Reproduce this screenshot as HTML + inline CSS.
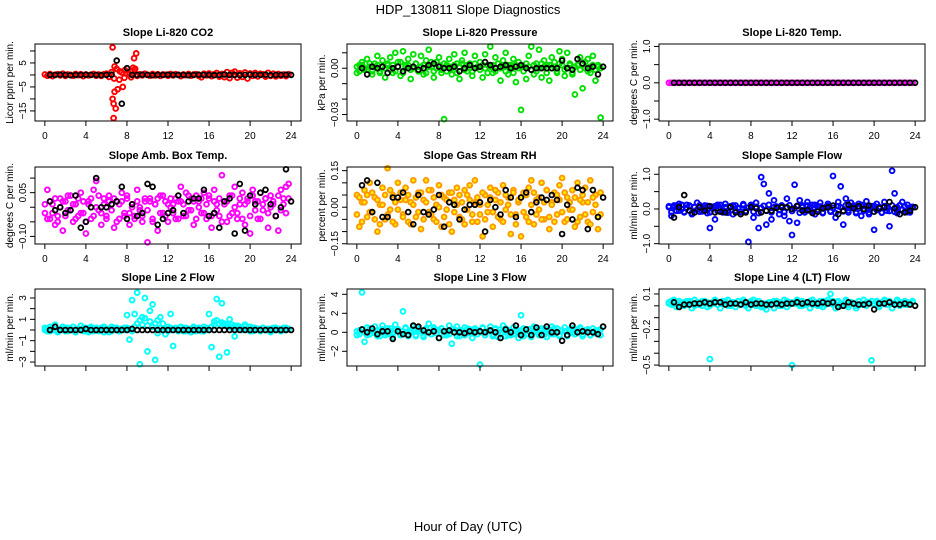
<!DOCTYPE html>
<html><head><meta charset="utf-8"><style>
html,body{margin:0;padding:0;background:#fff;}
svg{display:block;font-family:"Liberation Sans",sans-serif;}
</style></head><body>
<svg id="chart" width="936" height="540" viewBox="0 0 936 540">
<text x="468" y="14" text-anchor="middle" font-size="13">HDP_130811  Slope Diagnostics</text>
<text x="468" y="531" text-anchor="middle" font-size="13">Hour of Day (UTC)</text>
</svg>
<script>
const HOURS=[0,0.25,0.5,0.75,1,1.25,1.5,1.75,2,2.25,2.5,2.75,3,3.25,3.5,3.75,4,4.25,4.5,4.75,5,5.25,5.5,5.75,6,6.25,6.5,6.75,7,7.25,7.5,7.75,8,8.25,8.5,8.75,9,9.25,9.5,9.75,10,10.25,10.5,10.75,11,11.25,11.5,11.75,12,12.25,12.5,12.75,13,13.25,13.5,13.75,14,14.25,14.5,14.75,15,15.25,15.5,15.75,16,16.25,16.5,16.75,17,17.25,17.5,17.75,18,18.25,18.5,18.75,19,19.25,19.5,19.75,20,20.25,20.5,20.75,21,21.25,21.5,21.75,22,22.25,22.5,22.75,23,23.25,23.5,23.75];
const HOURS_B=[0.5,1,1.5,2,2.5,3,3.5,4,4.5,5,5.5,6,6.5,7,7.5,8,8.5,9,9.5,10,10.5,11,11.5,12,12.5,13,13.5,14,14.5,15,15.5,16,16.5,17,17.5,18,18.5,19,19.5,20,20.5,21,21.5,22,22.5,23,23.5,24];
const X_TICKS=[0,4,8,12,16,20,24];

const CO2_A=[0.2,-0.3,0.4,-0.5,0.1,0.3,-0.2,0.5,-0.4,0.2,0,-0.3,0.4,-0.1,0.3,-0.5,0.2,-0.2,0.1,0.4,-0.3,0.2,-0.4,0.3,0.5,-0.8,1.2,-1.5,2.5,-2,1,-1.2,0.6,0.3,1.5,2.2,-0.4,0.3,-0.2,0.5,0.1,-0.3,0.4,-0.2,0.3,-0.4,0.2,0.1,-0.3,0.4,-0.2,0.3,0.1,-0.5,0.2,-0.1,0.4,-0.3,0.2,0.3,-0.4,-1,0.5,-0.2,0.6,-0.5,0.3,0.8,-0.7,0.4,-0.9,1.2,-1.3,0.9,1.4,-1.1,0.7,-0.8,1,-1.5,0.6,-0.4,0.8,-0.6,0.5,0.3,-0.7,0.9,-0.4,0.5,-0.6,0.4,-0.3,0.2,-0.5,0.3];
const CO2_OUT_X=[6.6,6.8,6.6,6.7,6.9,6.7,6.8,7.1,7.6,8.7,8.9,8.6,7.8,7.3,8.8,8.4];
const CO2_OUT_Y=[11.5,3.5,-10,-12,-14,-18,-7,-6,-5,7,9,3,2,1.5,2.5,-1];
const CO2_K=[0,0,0.1,0,-0.1,0,0,0.1,0,0,-0.1,0,0.1,6,-12,2.8,0,0,0.1,0,-0.1,0,0,0.1,0,0,0,-0.1,0,0.1,0,0,-0.1,0,0.2,0,0,-0.1,0,0.1,0,0,0.1,-0.1,0,0,0.1,0];

const PRS_A=[-0.003,0.002,0.004,-0.001,0.006,0.001,-0.004,0.003,0.008,-0.002,0.005,-0.006,0.002,0.007,-0.003,0.010,0.004,-0.005,0.011,0.002,0.006,-0.007,0.009,0.003,-0.002,0.008,-0.004,0.005,0.012,0.001,-0.006,0.004,0.007,-0.003,-0.033,0.002,0.006,-0.004,0.009,0.003,-0.007,0.005,0.010,-0.002,0.003,-0.005,0.008,0.001,0.004,-0.006,0.009,0.002,0.014,-0.003,0.007,0.003,-0.008,0.005,0.010,-0.004,0.002,0.006,-0.009,0.004,-0.027,0.001,-0.007,0.008,0.014,-0.004,0.003,0.012,-0.006,0.005,0.002,-0.008,0.007,0.004,-0.003,0.011,0.006,-0.005,0.010,0.003,-0.004,-0.017,0.002,0.007,-0.013,0.004,0.006,-0.003,0.008,-0.008,0.002,-0.032];
const PRS_B=[0.001,-0.002,0.002,0,-0.001,0.003,-0.002,0.001,0.002,-0.003,0.001,0,0.003,-0.001,0.002,-0.002,0.001,0.004,-0.003,0.001,0.002,-0.001,0,0.003,-0.002,0.001,0.002,-0.003,0.001,0.004,-0.002,0,0.002,-0.001,0.003,-0.002,0.001,0,0.002,-0.003,0.001,0.003,-0.001,0.002,0,-0.002,0.003,0.001,-0.001,0.002,0,-0.003,0.001,0.002,-0.002,0.003,0,0.001,-0.002,0.002,0.001,-0.003,0.002,0,0.001,-0.002,0.003,0.001,-0.001,0.002,-0.002,0,0.003,0.001,-0.003,0.002,0,0.001,-0.002,0.003,0.002,-0.001,0,0.002,-0.003,0.001,0.002,-0.001,0.003,0,-0.002,0.001,0.002,-0.001,0.001,0];
const PRS_K=[0,-0.004,0.001,0,0.001,-0.003,0,0.001,-0.002,0,0.001,-0.001,0,0.002,0.003,0.001,0,0,0.001,-0.002,0,0.002,0,0.001,0.004,0.002,0,0.001,0.002,0,0.001,0.002,0,-0.001,0,0,0,0,0,0.005,0,-0.001,0.006,0.003,0,0.001,-0.004,0.001];

const TMP_A=[0,0,0,0,0,0,0,0,0,0,0,0,0,0,0,0,0,0,0,0,0,0,0,0,0,0,0,0,0,0,0,0,0,0,0,0,0,0,0,0,0,0,0,0,0,0,0,0,0,0,0,0,0,0,0,0,0,0,0,0,0,0,0,0,0,0,0,0,0,0,0,0,0,0,0,0,0,0,0,0,0,0,0,0,0,0,0,0,0,0,0,0,0,0,0,0];
const TMP_K=[0,0,0,0,0,0,0,0,0,0,0,0,0,0,0,0,0,0,0,0,0,0,0,0,0,0,0,0,0,0,0,0,0,0,0,0,0,0,0,0,0,0,0,0,0,0,0,0];

const AMB_A=[-0.02,0.06,-0.04,0.01,-0.06,-0.03,0.03,-0.08,0.02,-0.01,0.04,-0.05,0.01,-0.03,0.05,-0.02,-0.09,0.02,-0.04,0.06,0.09,-0.01,-0.06,0.03,-0.03,0.04,0.01,-0.07,0.02,-0.04,0.05,-0.02,0.03,-0.06,0,-0.03,0.06,-0.01,-0.05,0.02,-0.12,0.03,-0.04,0.01,-0.08,0.04,-0.02,0.02,-0.05,0.03,0.01,-0.04,0.02,0.07,-0.03,0.05,-0.01,0.03,-0.06,0.04,0.02,-0.02,0.05,-0.04,0.03,-0.07,0.06,0.01,-0.03,0.11,0.02,-0.05,0.04,-0.02,0.07,-0.04,0.01,0.05,-0.06,0.03,-0.09,0.06,0.02,-0.04,0.05,-0.01,0.03,-0.07,0.04,0.01,-0.03,-0.08,0.06,0.03,0.07,0.08];
const AMB_B=[0.01,-0.04,0.02,-0.02,0.03,-0.05,0,0.02,-0.03,0.04,-0.01,0.01,-0.04,0.03,-0.02,0.02,-0.05,0.01,0.03,-0.03,0,0.04,-0.02,0.01,-0.04,0.02,-0.01,0.03,-0.05,0.01,0.02,-0.03,0.04,-0.02,0.01,-0.04,0.02,0,-0.03,0.03,-0.01,0.02,-0.05,0.01,0.03,-0.02,0.04,-0.03,0.01,0,-0.02,0.03,-0.04,0.02,0.01,-0.03,0.04,-0.01,0.02,-0.04,0,0.03,-0.02,0.01,0.04,-0.03,0.02,-0.01,0.03,-0.05,0.01,0.02,-0.03,0.04,0,-0.02,0.03,-0.04,0.01,0.02,-0.03,0.04,-0.01,0.02,-0.04,0.01,0.03,-0.02,0,0.02,-0.03,0.04,-0.01,0.01,-0.02,0.03];
const AMB_K=[0.02,-0.01,0,-0.02,-0.01,0.04,-0.07,-0.05,0,0.10,0,0,0.01,0.02,0.07,-0.04,0.01,-0.03,-0.02,0.08,0.07,-0.06,-0.04,-0.02,-0.01,0.04,-0.02,0.02,0.03,0.03,0.06,-0.03,-0.02,-0.07,0.02,0.03,-0.09,0.08,-0.08,0.04,0.01,0.05,0.06,0.01,-0.03,0,0.13,0.02];

const RH_A=[0.05,-0.08,0.02,0.07,-0.04,0.10,-0.02,0.04,-0.10,0.01,0.08,-0.05,0.16,-0.01,0.05,-0.07,0.10,0.03,-0.03,0.08,-0.06,0.02,0.11,-0.04,0.06,-0.09,0.03,0.11,-0.02,0.07,-0.05,0.01,0.09,-0.08,0.04,-0.01,0.06,-0.10,0.03,0.08,-0.04,0.02,-0.07,0.05,0.09,-0.03,0.11,-0.06,0.01,-0.12,0.05,-0.02,0.08,-0.08,0.03,0.06,-0.05,0.09,-0.01,0.04,-0.11,0.07,-0.03,0.02,-0.12,0.06,-0.04,0.08,0.11,-0.07,0.03,-0.01,0.10,-0.05,0.07,-0.09,0.02,0.06,-0.03,0.09,0.12,-0.06,0.04,-0.01,0.07,-0.08,0.10,-0.04,0.02,0.08,-0.06,0.11,-0.02,0.05,-0.09,-0.03];
const RH_B=[-0.03,0.04,-0.06,0.02,0.05,-0.02,0.06,-0.05,0.03,-0.07,0.01,0.05,-0.03,0.07,-0.06,0.02,-0.01,0.06,-0.04,0.03,0.05,-0.07,0.01,0.04,-0.02,0.06,-0.05,0.02,0.07,-0.03,0.04,-0.06,0,0.05,-0.04,0.03,-0.07,0.06,-0.02,0.01,0.05,-0.05,0.07,-0.01,0.03,-0.06,0.02,0.04,-0.03,0.06,-0.05,0.01,0.04,-0.02,0.07,-0.04,0.02,-0.06,0.05,0.01,-0.03,0.06,-0.07,0.03,0.04,-0.02,0.05,-0.06,0.01,0.06,-0.03,0.04,-0.05,0.02,0.07,-0.04,0.01,-0.06,0.05,0.03,-0.02,0.06,-0.05,0.02,-0.01,0.04,-0.06,0.03,0.05,-0.03,0.02,-0.07,0.04,0.01,-0.04,0.06];
const RH_K=[0.09,0.11,-0.02,0.10,-0.04,-0.04,0.04,0.04,0.06,-0.02,-0.07,0.05,-0.02,-0.03,-0.01,0.05,-0.08,0.02,0.01,-0.05,-0.01,0.01,0.01,0.02,-0.10,0.03,0,-0.03,0.07,0.04,-0.04,0.04,0.06,-0.02,0.02,0.04,0.03,0.05,0.03,-0.11,0.01,-0.05,0.08,0.07,-0.09,0.07,-0.04,0.04];

const SF_A=[0.05,-0.2,0.10,-0.05,0.15,0,-0.10,0.12,0.08,-0.15,0.05,0.18,-0.08,0.02,0.10,-0.12,-0.55,0.06,-0.3,0.12,0.04,-0.1,0.15,-0.05,0.08,-0.15,0.1,0.03,-0.08,0.14,-0.06,-0.95,0.12,-0.25,0.18,-0.55,0.92,0.72,-0.45,0.45,-0.3,0.25,0.05,-0.15,0.1,-0.2,0.3,-0.35,-0.75,0.7,-0.4,0.25,0.1,-0.1,0.2,-0.05,0.12,-0.15,0.08,0.18,-0.12,0.05,0.15,-0.08,0.95,-0.25,0.2,0.65,-0.45,0.3,-0.1,0.18,0.05,-0.12,0.15,-0.2,0.1,0.22,-0.15,0.08,-0.6,0.15,0.05,-0.1,0.2,-0.05,-0.5,1.1,0.45,-0.12,0.1,0.2,-0.08,0.12,-0.1,0.05];
const SF_B=[0.08,-0.1,0.05,0.1,-0.05,0.12,-0.08,0.03,0.1,-0.12,0.06,-0.02,0.11,-0.07,0.04,0.09,-0.1,0.02,0.08,-0.06,0.12,-0.03,0.05,-0.11,0.07,0.1,-0.04,0.02,-0.09,0.11,-0.06,0.04,0.1,-0.08,0.06,-0.12,0.03,0.09,-0.05,0.12,-0.1,0.05,0.07,-0.03,0.1,-0.09,0.04,0.11,-0.06,0.02,0.09,-0.11,0.05,-0.04,0.1,0.06,-0.08,0.12,-0.02,0.07,-0.1,0.04,0.09,-0.06,0.03,-0.12,0.08,0.05,-0.07,0.11,-0.04,0.06,0.1,-0.09,0.02,0.12,-0.05,0.07,-0.1,0.04,0.09,-0.03,0.06,-0.11,0.08,0.03,-0.06,0.1,-0.08,0.05,0.11,-0.02,0.07,-0.09,0.04,0.06];
const SF_K=[-0.25,0.05,0.4,-0.05,-0.1,0.05,-0.05,0.08,-0.1,-0.08,-0.1,0.05,-0.1,-0.15,-0.1,0.05,0.02,-0.1,-0.05,-0.05,0.03,0.05,0.05,0,0.08,-0.05,-0.03,-0.12,-0.08,0.02,0.05,0.1,-0.15,-0.05,0.12,0.02,0.08,0,0.1,-0.08,0.02,0.05,0.2,0.02,-0.15,-0.1,-0.05,0.05];

const L2_A=[0.2,-0.1,0.3,0,0.5,-0.2,0.1,0.3,-0.1,0.2,0,0.3,-0.2,0.1,0.4,-0.1,0.2,-0.2,0.3,0,0.1,-0.1,0.2,0.3,0.1,-0.2,0.3,0,0.2,-0.1,0.1,0.2,1.4,-0.9,2.8,1.5,3.5,-3.2,1.2,3.0,-2.0,1.8,2.4,-2.8,0.9,1.2,0.6,-0.4,0.3,1.5,-1.5,0.2,0,0.3,-0.1,0.2,0.1,-0.2,0.3,0,0.2,-0.1,0.3,0.1,1.5,-1.6,0.8,2.9,-2.5,2.5,0.6,-2.1,1.0,0.5,-0.6,0.4,0.3,0.1,0.5,0,0.3,-0.1,0.2,0.1,-0.1,0.2,0,0.1,-0.2,0.2,0,0.1,-0.1,0.2,0,0.1];
const L2_B=[0,0.1,-0.1,0.2,0,-0.1,0.1,0,0.2,-0.1,0.1,0,-0.2,0.1,0,0.2,-0.1,0,0.1,-0.1,0.2,0,0.1,-0.2,0,0.1,-0.1,0.2,0,-0.1,0.1,0,0.2,0.1,-0.1,0.3,0.6,0.9,0.5,1.1,0.4,0.8,0.3,0.6,-0.3,0.2,0,0.1,-0.1,0.2,0,0.1,-0.1,0,0.2,-0.1,0.1,0,0.2,-0.1,0,0.1,-0.1,0.2,0,0.3,0.5,0.9,0.6,0.7,0.4,0.5,0.3,0.2,0.4,0.1,0.2,0,0.3,0.1,-0.1,0.2,0,0.1,-0.1,0.2,0,0.1,-0.1,0,0.2,0.1,-0.1,0,0.2,0.1];
const L2_K=[0,0.3,0,0,0,0,0,0.1,0,0,0,0,0,0,0,0,0.1,0,0,0,0,0,0,0,0,0,0,0,0,0,0,0,0,0,0,0,0,0,0,0,0,0,0,0,0,0,0,0];

const L3_A=[-0.3,0.2,4.2,-1.0,0.5,-0.2,0.3,0.6,-0.4,0.2,0.7,-0.3,0.4,0.1,-0.5,0.8,0.3,-0.2,2.2,0.5,-0.4,0.2,0.6,-0.3,0.4,0.1,-0.5,0.3,0.9,-0.2,0.5,0.2,-0.6,0.4,0.1,-0.3,0.7,-1.2,0.3,0.6,-0.4,0.2,0.5,-0.1,0.3,-0.6,0.4,0.2,-3.4,0.5,-0.3,0.1,0.6,-0.2,0.4,-0.5,0.3,0.7,-0.4,0.2,-0.3,0.5,0.1,-0.6,1.8,0.4,-0.2,0.3,-0.5,0.6,0.2,-0.3,0.4,0.1,-0.5,0.3,0.6,-0.2,0.4,-0.4,0.2,0.5,-0.3,0.1,0.4,-0.2,0.3,0.5,-0.4,0.2,0.1,-0.3,0.4,-0.1,0.2,-0.3];
const L3_B=[0.1,-0.2,0.3,0,-0.3,0.4,0.1,-0.1,0.2,-0.4,0.3,0,-0.2,0.4,-0.1,0.2,0.3,-0.3,0.1,0.4,-0.2,0,0.3,-0.4,0.2,0.1,-0.3,0.4,0,-0.2,0.3,-0.1,0.2,0.4,-0.3,0.1,-0.2,0.3,0,-0.4,0.2,0.1,-0.3,0.4,-0.1,0.2,0.3,-0.2,0,0.4,-0.3,0.1,0.2,-0.4,0.3,0,-0.1,0.2,0.4,-0.3,0.1,-0.2,0.3,0,0.2,-0.4,0.1,0.3,-0.2,0.4,0,-0.1,0.2,-0.3,0.3,0.1,-0.2,0.4,0,-0.3,0.2,0.1,-0.4,0.3,-0.1,0.2,0,0.4,-0.2,0.1,0.3,-0.3,0,0.2,-0.1,0.3];
const L3_K=[0.3,0,0.4,-0.2,0.1,0.1,-0.7,0.1,-0.2,-0.3,0.7,0.6,0.2,0,0.1,-0.6,0.1,0.2,0,0,-0.1,0.1,0,0.1,0,0.2,0,-0.6,0.3,0,0.7,-0.3,0.3,-0.3,0.5,-0.3,0.6,0,0,-0.9,-0.3,0.7,0,0.1,0,0,-0.2,0.6];

const L4_A=[0.03,0.01,0.05,-0.01,0.04,0.02,0,0.04,0.03,-0.02,0.05,0.01,0.03,0,0.04,-0.01,-0.45,0.03,0.05,0.01,-0.02,0.04,0.02,0.05,0,0.03,-0.01,0.04,0.02,0.05,0.01,-0.02,0.03,0.05,0,0.04,-0.01,0.02,-0.03,0.01,0.03,-0.02,0.04,0,0.02,0.05,-0.01,0.03,-0.5,0.02,0.05,0,0.04,0.01,0.03,-0.02,0.05,0.02,0,0.04,-0.01,0.03,0.05,0.1,0.01,-0.02,0.04,0.02,0,0.05,-0.01,0.03,0.02,-0.02,0.04,0.01,0.05,0,0.03,-0.46,0.02,0.04,-0.01,0.03,0.05,0.01,0.04,-0.02,0.02,0.05,0,0.03,0.04,0.01,0.02,0.03];
const L4_B=[0.02,0.04,0.01,0.03,0.02,0,0.03,0.01,0.04,0.02,0,0.03,0.01,0.04,0.02,0.03,0,0.02,0.04,0.01,0.03,0.02,0.04,0,0.01,0.03,0.02,0.04,0.01,0.03,0,0.02,0.04,0.01,0.03,0.02,0,-0.01,0.01,0.03,0.02,0.04,0.01,0.03,0,0.02,0.04,0.01,0.03,0.02,0.04,0.01,0,0.03,0.02,0.04,0.01,0.03,0.02,0,0.04,0.01,0.03,0.02,0.04,0.01,0.03,0,0.02,0.04,0.01,0.03,0.02,0,0.04,0.02,0.01,0.03,0.02,0.04,0.01,0.03,0,0.02,0.04,0.01,0.03,0.02,0.01,0.04,0.03,0.02,0.01,0.03,0.02,0.04];
const L4_K=[0.03,-0.01,0.01,0.01,0.02,0.02,0.03,0.02,0.03,0.03,0.01,0.02,0.02,0.01,0.03,0.01,0.02,0.02,0.01,0.01,0.02,0.01,0.02,0.02,0.03,0.02,0.03,0.02,0.02,0.03,0.02,0.03,-0.01,0,0.03,0.02,0.01,0.01,0.02,-0.03,0.02,0.02,0.03,0.01,0.01,0.02,0.01,0];

const NS='http://www.w3.org/2000/svg';
const svg=document.getElementById('chart');
function mk(tag,attrs,parent){const e=document.createElementNS(NS,tag);for(const k in attrs)e.setAttribute(k,attrs[k]);(parent||svg).appendChild(e);return e;}

const COLS=[35,347,659], ROWS=[44,167,289], PW=266, PH=77;
const XMIN=-0.96, XMAX=24.96;

const panels=[
 {name:'co2',title:'Slope Li-820 CO2',ylab:'Licor ppm per min.',col:0,row:0,ylim:[-19.2,12.9],ticks:[-15,-10,-5,0,5,10],labels:{'-15':'\u221215','-5':'\u22125','5':'5'},color:'#ff0000',series:[[HOURS,CO2_A],[CO2_OUT_X,CO2_OUT_Y]],black:CO2_K,xlab:true},
 {name:'pressure',title:'Slope Li-820 Pressure',ylab:'kPa per min.',col:1,row:0,ylim:[-0.0342,0.0157],ticks:[0.01,0,-0.01,-0.02,-0.03],labels:{'0':'0.00','-0.03':'\u22120.03'},color:'#00e000',series:[[HOURS,PRS_A],[HOURS,PRS_B]],black:PRS_K,xlab:true},
 {name:'li820-temp',title:'Slope Li-820 Temp.',ylab:'degrees C per min.',col:2,row:0,ylim:[-1.05,1.067],ticks:[1,0.5,0,-0.5,-1],labels:{'1':'1.0','0':'0.0','-1':'\u22121.0'},color:'#ff00ff',series:[[HOURS,TMP_A]],black:TMP_K,xlab:true},
 {name:'amb-box-temp',title:'Slope Amb. Box Temp.',ylab:'degrees C per min.',col:0,row:1,ylim:[-0.126,0.138],ticks:[0.1,0.05,0,-0.05,-0.1],labels:{'0.05':'0.05','-0.1':'\u22120.10'},color:'#ff00ff',series:[[HOURS,AMB_A],[HOURS,AMB_B]],black:AMB_K,xlab:true},
 {name:'gas-stream-rh',title:'Slope Gas Stream RH',ylab:'percent per min.',col:1,row:1,ylim:[-0.151,0.165],ticks:[0.15,0.1,0.05,0,-0.05,-0.1,-0.15],labels:{'0.15':'0.15','0':'0.00','-0.15':'\u22120.15'},color:'#ff9900',fill:'#ffee00',series:[[HOURS,RH_A],[HOURS,RH_B]],black:RH_K,xlab:true},
 {name:'sample-flow',title:'Slope Sample Flow',ylab:'ml/min per min.',col:2,row:1,ylim:[-1.01,1.21],ticks:[1,0.5,0,-0.5,-1],labels:{'1':'1.0','0':'0.0','-1':'\u22121.0'},color:'#0000ff',series:[[HOURS,SF_A],[HOURS,SF_B]],black:SF_K,xlab:true},
 {name:'line2-flow',title:'Slope Line 2 Flow',ylab:'ml/min per min.',col:0,row:2,ylim:[-3.37,3.84],ticks:[3,2,1,0,-1,-2,-3],labels:{'3':'3','1':'1','-1':'\u22121','-3':'\u22123'},color:'#00ffff',series:[[HOURS,L2_A],[HOURS,L2_B]],black:L2_K,xlab:false},
 {name:'line3-flow',title:'Slope Line 3 Flow',ylab:'ml/min per min.',col:1,row:2,ylim:[-3.55,4.56],ticks:[4,2,0,-2],labels:{'4':'4','2':'2','0':'0','-2':'\u22122'},color:'#00ffff',series:[[HOURS,L3_A],[HOURS,L3_B]],black:L3_K,xlab:false},
 {name:'line4-flow',title:'Slope Line 4 (LT) Flow',ylab:'ml/min per min.',col:2,row:2,ylim:[-0.508,0.142],ticks:[0.1,0,-0.1,-0.2,-0.3,-0.4,-0.5],labels:{'0.1':'0.1','-0.2':'\u22120.2','-0.5':'\u22120.5'},color:'#00ffff',series:[[HOURS,L4_A],[HOURS,L4_B]],black:L4_K,xlab:false}
];

panels.forEach(p=>{
  const L=COLS[p.col], T=ROWS[p.row], R=L+PW, B=T+PH;
  const xs=v=>L+(v-XMIN)/(XMAX-XMIN)*PW;
  const ys=v=>B-(v-p.ylim[0])/(p.ylim[1]-p.ylim[0])*PH;
  const g=mk('g',{});
  
  
  const t=mk('text',{x:(L+R)/2,y:T-8,'text-anchor':'middle','font-size':11,'font-weight':'bold'},g);
  t.textContent=p.title;
  
  
  const yl=mk('text',{transform:`translate(${L-22},${(T+B)/2}) rotate(-90)`,'text-anchor':'middle','font-size':10},g);
  yl.textContent=p.ylab;
  
  
  const pts=mk('g',{fill:p.fill||'none',stroke:p.color,'stroke-width':1.9},g);
  
  
  p.series.forEach(([hx,hy])=>{
    const n=Math.min(hx.length,hy.length);
    for(let i=0;i<n;i++){
      const c=mk('circle',{cx:xs(hx[i]).toFixed(1),cy:ys(hy[i]).toFixed(1),r:2.4},pts);
      
      
    }
  });
  const bk=mk('g',{fill:'none',stroke:'#000','stroke-width':1.8},g);
  
  
  for(let i=0;i<Math.min(HOURS_B.length,p.black.length);i++){
    const c=mk('circle',{cx:xs(HOURS_B[i]).toFixed(1),cy:ys(p.black[i]).toFixed(1),r:2.4},bk);
    
    
  }
  const box=mk('rect',{x:L,y:T,width:PW,height:PH,fill:'none',stroke:'#000','stroke-width':1},g);
  
  
  const xa=mk('g',{stroke:'#000','stroke-width':1},g);
  
  
  mk('line',{x1:xs(X_TICKS[0]),x2:xs(X_TICKS[X_TICKS.length-1]),y1:B,y2:B},xa);
  X_TICKS.forEach(v=>{
    mk('line',{x1:xs(v),x2:xs(v),y1:B,y2:B+5},xa);
    if(p.xlab){const tx=mk('text',{x:xs(v),y:B+18,'text-anchor':'middle','font-size':10,stroke:'none',fill:'#000'},xa);tx.textContent=v;}
  });
  const ya=mk('g',{stroke:'#000','stroke-width':1},g);
  
  
  const tv=p.ticks.filter(v=>ys(v)>=T-1&&ys(v)<=B+1);
  mk('line',{x1:L,x2:L,y1:ys(Math.max(...tv)),y2:ys(Math.min(...tv))},ya);
  tv.forEach(v=>{
    const y=ys(v);
    mk('line',{x1:L-5,x2:L,y1:y,y2:y},ya);
    const lab=p.labels[String(v)];
    if(lab){const tx=mk('text',{transform:`translate(${L-9},${y}) rotate(-90)`,'text-anchor':'middle','font-size':10,stroke:'none',fill:'#000'},ya);tx.textContent=lab;}
  });
});
</script>
</body></html>
